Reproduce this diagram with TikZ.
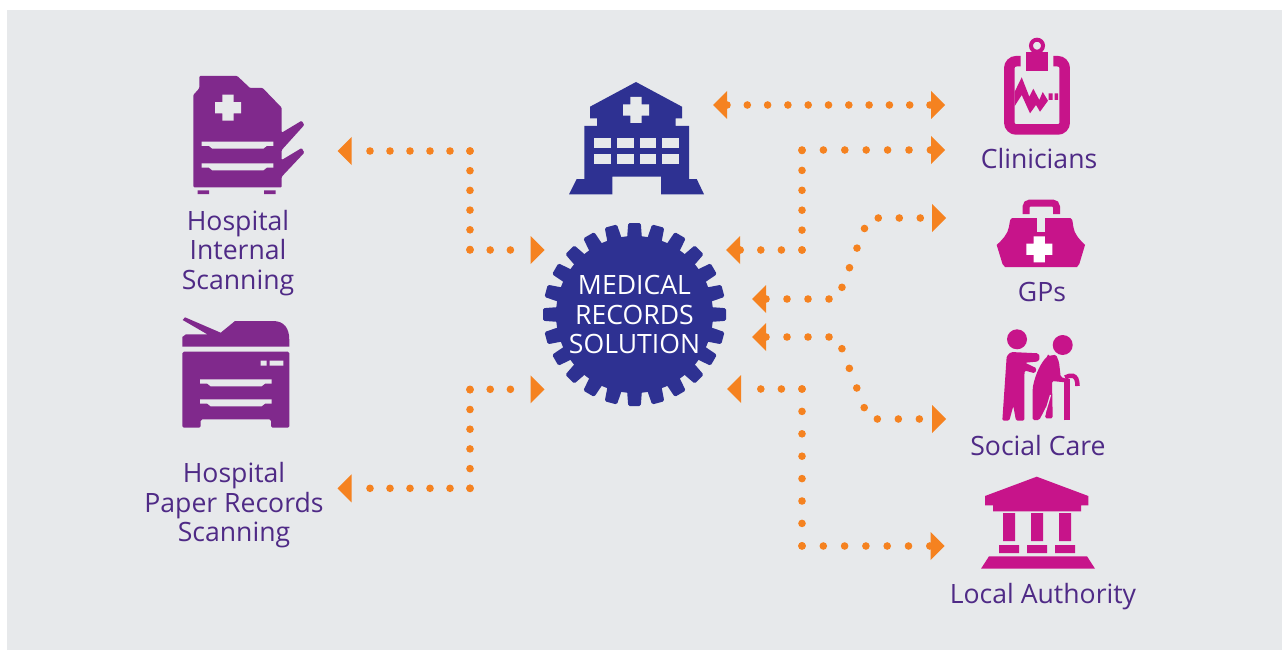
\documentclass[tikz,border=0pt]{standalone}
\usepackage{graphicx,xcolor}
\usepackage{fontspec}
\setmainfont{Open Sans}
\usepackage{tikz}
\usetikzlibrary{arrows.meta}

\definecolor{panelgrey}{HTML}{E7E9EB}
\definecolor{scanpurple}{HTML}{80298C}
\definecolor{navyblue}{HTML}{2E3192}
\definecolor{carepink}{HTML}{C7148A}
\definecolor{linkorange}{HTML}{F58220}
\definecolor{labelpurple}{HTML}{4F2A86}

\newcommand{\medcross}[2]{\fill[#2] (#1) +(-13,-5.6) rectangle +(13,5.6) +(-5.6,-13) rectangle +(5.6,13);}
\newcommand{\trayslot}[1]{\fill[panelgrey] (#1) -- +(71.6,0) -- +(71.6,4.3) -- +(65,4.3) -- +(61.6,7) -- +(10.6,7) -- +(7.3,4.3) -- +(0,4.3) -- cycle;}

\begin{document}
\begin{tikzpicture}[x=1pt,y=-1pt,
    lbl/.style={text=labelpurple,align=center,inner sep=0pt,font=\fontsize{26.6}{29.5}\selectfont},
    dots/.style={draw=linkorange,line width=7.6pt,line cap=round,dash pattern=on 0pt off #1},
    head/.tip={Triangle[length=14pt,width=28pt,line width=0pt,color=linkorange]}]
    \path[fill=white,use as bounding box] (0,0) rectangle (1282,650);
    \fill[panelgrey] (7,10) rectangle (1282,650);

    % left scanner
    \fill[scanpurple,rounded corners=1pt] (199.3,76) -- (237.3,76) -- (250,88) -- (262.7,88) -- (281.7,107.7) -- (281.7,132.7) -- (301.7,120.7) -- (304.3,125) -- (281.7,150) -- (281.7,160) -- (301.7,148) -- (304.3,152.7) -- (281.7,176.7) -- (281.7,187.3) -- (193.3,187.3) -- (193.3,95) -- (199.3,88.3) -- cycle;
    \fill[scanpurple] (197.7,190.3) rectangle (209,194) (264,190.3) rectangle (275.7,194);
    \medcross{228,107.7}{panelgrey}
    \trayslot{201.7,141.7}
    \trayslot{201.7,163.4}
    \node[lbl] (internal) at (238,253) {Hospital\\Internal\\Scanning};

    % paper records copier
    \fill[scanpurple] (182.3,346.7) -- (289.3,346.7) -- (289.3,340) .. controls (289.3,328) and (284,321) .. (273,321) -- (235,321) -- (220.7,332.7) -- (185,317.3) -- (182.7,320) -- (207.3,334.3) -- (186,334.3) -- (182.3,337) -- cycle;
    \fill[scanpurple,rounded corners=1.5pt] (182.3,351.7) -- (289.3,351.7) -- (289.3,427.7) -- (271,427.7) -- (271,419.3) -- (200.7,419.3) -- (200.7,427.7) -- (182.3,427.7) -- cycle;
    \fill[panelgrey] (260.7,360.7) rectangle (266.7,365.7) (269.7,360.7) rectangle (283.3,365.7);
    \trayslot{200,379.3}
    \trayslot{200,399.3}
    \node[lbl] (paper) at (234,505.5) {Hospital\\Paper Records\\Scanning};

    % hospital
    \fill[navyblue] (636,82) -- (682,106.7) -- (682,118.3) -- (675.7,118.3) -- (675.7,126) -- (689,126) -- (689,179) -- (696.7,179) -- (704,194.3) -- (661,194.3) -- (661,176.7) -- (612.3,176.7) -- (612.3,194.3) -- (569,194.3) -- (576.7,179) -- (584.3,179) -- (584.3,126) -- (597,126) -- (597,118.3) -- (590,118.3) -- (590,106.7) -- cycle;
    \medcross{636,110}{panelgrey}
    \foreach \wx in {594.3,617,639.7,662.3}
        \foreach \wy in {137.7,154}
            \fill[panelgrey] (\wx,\wy) rectangle +(16.7,10);

    % gear in the middle
    \foreach \ang in {0,15,...,345}
        \fill[navyblue,shift={(634.5,314.5)},rotate=\ang,rounded corners=1.5pt] (75,-7.5) -- (91.5,-6.3) -- (91.5,6.3) -- (75,7.5) -- cycle;
    \node[circle,fill=navyblue,minimum size=157pt,inner sep=0pt,text=white,align=center,font=\fontsize{26.6}{29.5}\selectfont] (solution) at (634.5,314.5) {MEDICAL\\RECORDS\\SOLUTION};

    % clipboard
    \draw[carepink,line width=10.5pt,rounded corners=7pt] (1020.7,61.2) -- (1009.3,61.2) -- (1009.3,129.5) -- (1064.7,129.5) -- (1064.7,61.2) -- (1053.3,61.2);
    \fill[carepink] (1026,51.7) rectangle (1048,70.7);
    \draw[carepink,line width=4pt] (1037,45.7) circle (6);
    \fill[carepink] (1014.7,91.7) -- (1021.7,77.3) -- (1029.3,96.7) -- (1033.3,88.7) -- (1039.3,100) -- (1042.7,92) -- (1048,100.7) -- (1040,111.7) -- (1036,105) -- (1030,113.3) -- (1021.7,95) -- (1014.7,106) -- cycle;
    \fill[carepink] (1048.7,93.3) rectangle (1052.7,100) (1054.7,93.3) rectangle (1058,100);
    \node[lbl] (clinicians) at (1039,159) {Clinicians};

    % doctors bag
    \draw[carepink,line width=7pt,rounded corners=4pt] (1026,214) -- (1026,203) -- (1056.5,203) -- (1056.5,214);
    \fill[carepink] (1012,218) -- (1070.5,218) .. controls (1072,218) and (1072.5,220) .. (1073.3,226.7) .. controls (1074,234) and (1080,240) .. (1085,245) -- (1079.3,264) -- (1077,267) -- (1005,267) -- (1002.5,264) -- (996.7,245) .. controls (1002,240) and (1008,234) .. (1009,226.7) .. controls (1010,220) and (1010.5,218) .. (1012,218) -- cycle;
    \fill[panelgrey] (1037.3,216) rectangle (1045,231.5);
    \medcross{1039.3,249.3}{white}
    \node[lbl] (gps) at (1042,291.5) {GPs};

    % carer and patient
    \fill[carepink] (1017,339.3) circle (10) (1062.7,345) circle (10);
    \fill[carepink,rounded corners=1.5pt] (1006.7,356) -- (1011,352) -- (1038.3,353.3) -- (1040,357.3) -- (1038.3,361.5) -- (1025,362.7) -- (1036.7,368.3) -- (1035,373.3) -- (1024.5,370.5) -- (1024.3,420.7) -- (1016,420.7) -- (1013.3,406) -- (1009.3,420.7) -- (1002.3,420.7) -- cycle;
    \fill[carepink,rounded corners=1.5pt] (1048,356) -- (1056,354.7) -- (1059,362) -- (1060.7,377) -- (1067,379) -- (1067,382.5) -- (1052,381) -- (1052.7,418.3) -- (1045,418.3) -- (1047,405) -- (1039.3,420) -- (1032.7,420) -- (1032.7,388) .. controls (1035,375) and (1041,362) .. (1048,356) -- cycle;
    \draw[panelgrey,line width=1.2pt] (1050.5,395) -- (1044,417);
    \draw[carepink,line width=6pt] (1067,420.3) -- (1067,379);
    \draw[carepink,line width=4.5pt] (1065,377.5) .. controls (1070,375) and (1077.5,373) .. (1077.5,386);
    \node[lbl] (socialcare) at (1038,445.5) {Social Care};

    % town hall
    \fill[carepink] (1036.7,476.7) -- (1088.3,496) -- (1088.3,505.3) -- (1081,505.3) -- (1081,511.3) -- (993,511.3) -- (993,505.3) -- (985,505.3) -- (985,496) -- cycle;
    \foreach \cx in {1003,1031,1059}
        \fill[carepink] (\cx,513) rectangle +(12,28) (\cx-4,545) rectangle +(20,8);
    \fill[carepink] (989,556.3) -- (1087,556.3) -- (1095,568.7) -- (981,568.7) -- cycle;
    \node[lbl] (authority) at (1043,597) {Local Authority};

    % ends and bends of the links
    \coordinate (internalEnd) at (337.5,151);
    \coordinate (internalBendA) at (470,151);
    \coordinate (internalBendB) at (470,250);
    \coordinate (gearInternal) at (544.5,250);
    \coordinate (paperEnd) at (337.5,488.3);
    \coordinate (paperBendA) at (470,488.3);
    \coordinate (paperBendB) at (470,389.3);
    \coordinate (gearPaper) at (544.5,389.3);
    \coordinate (hospitalEnd) at (713,105);
    \coordinate (cliniciansTop) at (945,105);
    \coordinate (gearClin) at (726,250);
    \coordinate (clinBendA) at (802,250);
    \coordinate (clinBendB) at (802,150);
    \coordinate (cliniciansLow) at (945,150);
    \coordinate (gearGp) at (752,299);
    \coordinate (gpBendA) at (837.5,299);
    \coordinate (gpBendB) at (868.5,218);
    \coordinate (gpsEnd) at (946,218);
    \coordinate (gearCare) at (752,337);
    \coordinate (careBendA) at (837.5,337);
    \coordinate (careBendB) at (868.5,419);
    \coordinate (careEnd) at (946,419);
    \coordinate (gearAuth) at (727,389);
    \coordinate (authBendA) at (802,389);
    \coordinate (authBendB) at (802,546);
    \coordinate (authorityEnd) at (944.5,546);

    % dotted links
    \draw[dots=20pt,-{head}] (internalBendA) -- (internalEnd);
    \draw[dots=19.7pt] (internalBendA) -- (internalBendB);
    \draw[dots=20.2pt,-{head}] (internalBendB) -- (gearInternal);
    \draw[dots=20pt,-{head}] (paperBendA) -- (paperEnd);
    \draw[dots=19.7pt] (paperBendA) -- (paperBendB);
    \draw[dots=20.2pt,-{head}] (paperBendB) -- (gearPaper);
    \draw[dots=20.3pt,{head}-{head}] (hospitalEnd) -- (cliniciansTop);
    \draw[dots=20.6pt,-{head}] (clinBendA) -- (gearClin);
    \draw[dots=19.9pt] (clinBendA) -- (clinBendB);
    \draw[dots=21.4pt,-{head}] (clinBendB) -- (cliniciansLow);
    \draw[dots=21pt,{head}-{head}] (gearGp) -- (gpBendA) -- (gpBendB) -- (gpsEnd);
    \draw[dots=21pt,{head}-{head}] (gearCare) -- (careBendA) -- (careBendB) -- (careEnd);
    \draw[dots=20.6pt,-{head}] (authBendA) -- (gearAuth);
    \draw[dots=22.4pt] (authBendA) -- (authBendB);
    \draw[dots=21.3pt,-{head}] (authBendB) -- (authorityEnd);
\end{tikzpicture}
\end{document}
